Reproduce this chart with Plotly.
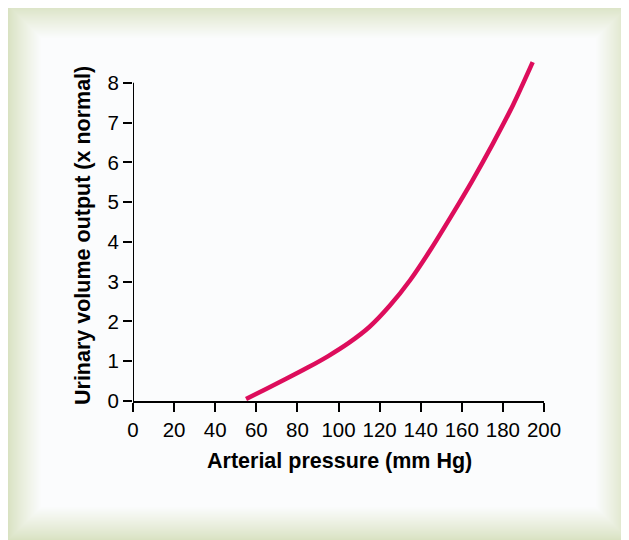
import plotly.graph_objects as go

# Data
pressure = [55, 65, 75, 85, 95, 105, 115, 125, 135, 145, 155, 165, 175, 185, 194.5]
urine_out = [0.05, 0.31, 0.57, 0.84, 1.13, 1.46, 1.86, 2.40, 3.05, 3.82, 4.66, 5.53, 6.46, 7.45, 8.52]
x_ticks = [0, 20, 40, 60, 80, 100, 120, 140, 160, 180, 200]
y_ticks = [0, 1, 2, 3, 4, 5, 6, 7, 8]

W, H = 629, 540
OFF = 8  # page body margin: screen px = figure px + OFF
L, T = 133 - OFF, 59 - OFF
R = W - (544 - OFF)
B = H - (401 - OFF)
PW, PH = W - L - R, H - T - B


def px_x(p):
    return (p - OFF - L) / PW


def px_y(p):
    return (H - B - (p - OFF)) / PH


def mix(c1, c2, t):
    return "rgb(%d,%d,%d)" % tuple(round(a + (b - a) * t) for a, b in zip(c1, c2))


green = (217, 226, 194)
white = (251, 252, 253)

shapes = []
# beveled frame: nested rectangles from green edge to white centre (screen px)
outer = (8, 5, 629, 540)
steps = 33
for i in range(steps + 1):
    t = i / steps
    t2 = t ** 0.9
    x0 = outer[0] + i
    y0 = outer[1] + i
    x1 = outer[2] - i
    y1 = outer[3] - i
    shapes.append(dict(type="rect", xref="paper", yref="paper",
                       x0=px_x(x0), x1=px_x(x1 + 20 * (i == 0)), y0=px_y(y1 + 20 * (i == 0)), y1=px_y(y0),
                       line=dict(width=0), fillcolor=mix(green, white, t2), layer="below"))

# y axis line (only up to 8)
shapes.append(dict(type="line", xref="x", yref="y", x0=0, x1=0, y0=0, y1=y_ticks[-1],
                   line=dict(color="black", width=2), layer="above"))

fig = go.Figure()
fig.add_trace(go.Scatter(x=pressure, y=urine_out, mode="lines",
                         line=dict(color="#dd0d5c", width=4.5, shape="spline", smoothing=0.8),
                         showlegend=False, hoverinfo="skip"))

font_family = "Liberation Sans, Arial, sans-serif"

fig.update_layout(
    width=W, height=H,
    margin=dict(l=L, r=R, t=T, b=B, pad=0),
    paper_bgcolor="white",
    plot_bgcolor="rgba(0,0,0,0)",
    shapes=shapes,
    font=dict(family=font_family, color="black"),
    annotations=[
        dict(text="<b>Arterial pressure (mm Hg)</b>", xref="paper", yref="paper",
             x=px_x(339), y=px_y(461), showarrow=False, font=dict(size=21.5, family=font_family),
             xanchor="center", yanchor="middle"),
        dict(text="<b>Urinary volume output (x normal)</b>", xref="paper", yref="paper",
             x=px_x(83), y=px_y(236), showarrow=False, textangle=-90,
             font=dict(size=21.5, family=font_family), xanchor="center", yanchor="middle"),
    ],
)

fig.update_xaxes(range=[0, 200], tickvals=x_ticks, ticktext=[str(v) for v in x_ticks],
                 showgrid=False, zeroline=False, showline=True, linecolor="black", linewidth=2,
                 ticks="outside", ticklen=9, tickwidth=2, tickcolor="black",
                 tickfont=dict(size=20.5, family=font_family, color="black"))
fig.update_yaxes(range=[0, 8.6], tickvals=y_ticks, ticktext=[str(v) for v in y_ticks],
                 showgrid=False, zeroline=False, showline=False,
                 ticks="outside", ticklen=9, tickwidth=2, tickcolor="black",
                 tickfont=dict(size=20.5, family=font_family, color="black"))

fig.write_html("out.html")
